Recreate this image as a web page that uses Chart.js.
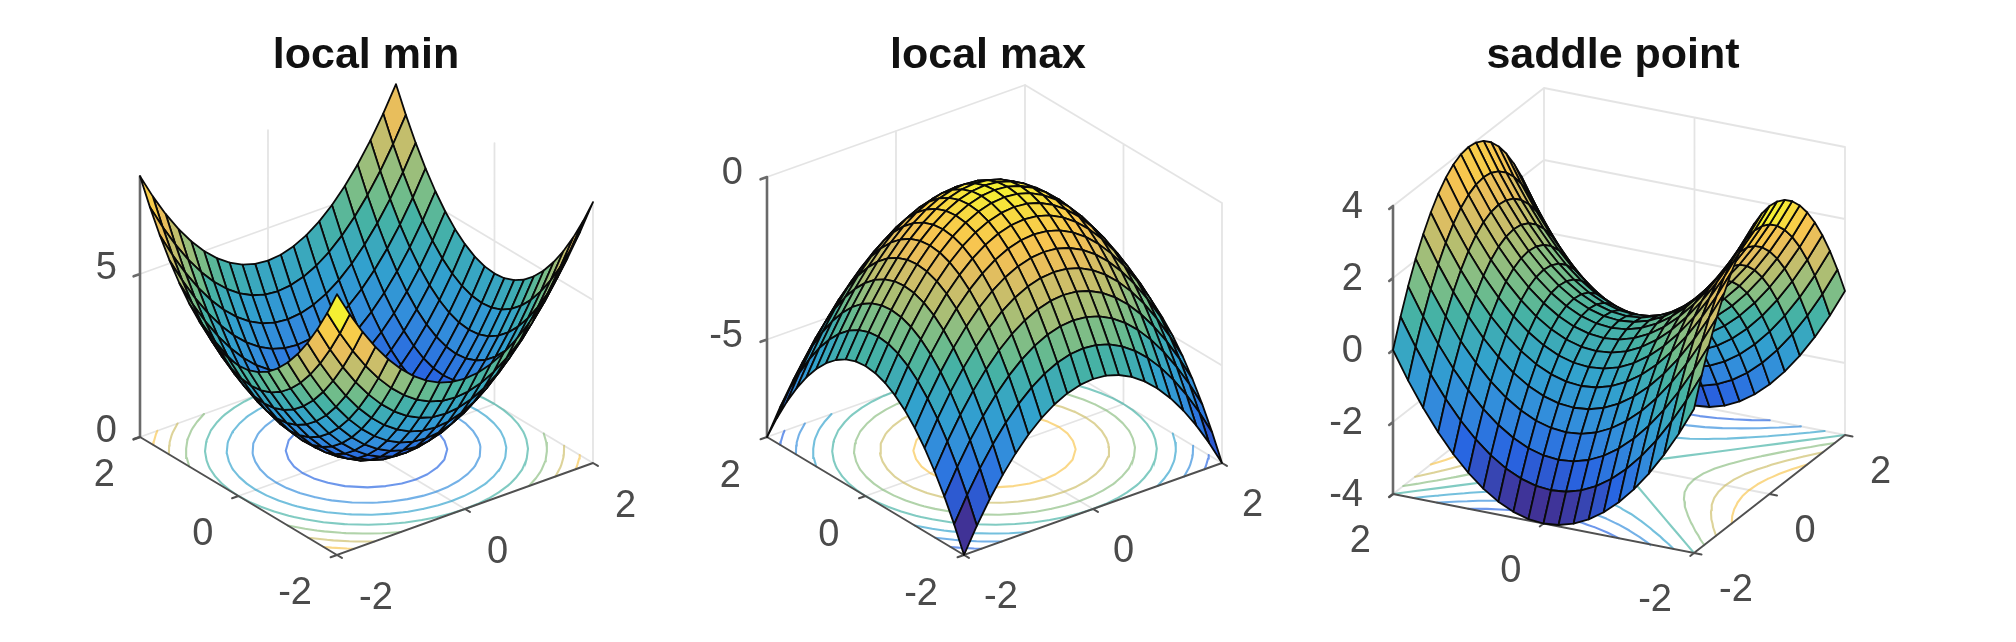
<!DOCTYPE html>
<html>
<head>
<meta charset="utf-8">
<title>local min, local max, saddle point</title>
<script src="https://cdn.jsdelivr.net/npm/chart.js@4"></script>
<style>
  html, body { margin: 0; background: #fff; }
  #page { position: relative; width: 2016px; height: 642px; overflow: hidden; }
  #page canvas { position: absolute; top: 0; filter: blur(0.7px); }
</style>
</head>
<body>
<div id="page">
  <canvas id="plot-min" width="620" height="642" style="left:56px"></canvas>
  <canvas id="plot-max" width="620" height="642" style="left:678px"></canvas>
  <canvas id="plot-saddle" width="620" height="642" style="left:1303px"></canvas>
</div>
<script>
// ---- data ----
const gridX = [-2, -1.8, -1.6, -1.4, -1.2, -1, -0.8, -0.6, -0.4, -0.2, 0, 0.2, 0.4, 0.6, 0.8, 1, 1.2, 1.4, 1.6, 1.8, 2];
const gridY = [-2, -1.8, -1.6, -1.4, -1.2, -1, -0.8, -0.6, -0.4, -0.2, 0, 0.2, 0.4, 0.6, 0.8, 1, 1.2, 1.4, 1.6, 1.8, 2];
const floorTicks = [-2, 0, 2];

const zLocalMin = [
  [8, 7.24, 6.56, 5.96, 5.44, 5, 4.64, 4.36, 4.16, 4.04, 4, 4.04, 4.16, 4.36, 4.64, 5, 5.44, 5.96, 6.56, 7.24, 8],
  [7.24, 6.48, 5.8, 5.2, 4.68, 4.24, 3.88, 3.6, 3.4, 3.28, 3.24, 3.28, 3.4, 3.6, 3.88, 4.24, 4.68, 5.2, 5.8, 6.48, 7.24],
  [6.56, 5.8, 5.12, 4.52, 4, 3.56, 3.2, 2.92, 2.72, 2.6, 2.56, 2.6, 2.72, 2.92, 3.2, 3.56, 4, 4.52, 5.12, 5.8, 6.56],
  [5.96, 5.2, 4.52, 3.92, 3.4, 2.96, 2.6, 2.32, 2.12, 2, 1.96, 2, 2.12, 2.32, 2.6, 2.96, 3.4, 3.92, 4.52, 5.2, 5.96],
  [5.44, 4.68, 4, 3.4, 2.88, 2.44, 2.08, 1.8, 1.6, 1.48, 1.44, 1.48, 1.6, 1.8, 2.08, 2.44, 2.88, 3.4, 4, 4.68, 5.44],
  [5, 4.24, 3.56, 2.96, 2.44, 2, 1.64, 1.36, 1.16, 1.04, 1, 1.04, 1.16, 1.36, 1.64, 2, 2.44, 2.96, 3.56, 4.24, 5],
  [4.64, 3.88, 3.2, 2.6, 2.08, 1.64, 1.28, 1, 0.8, 0.68, 0.64, 0.68, 0.8, 1, 1.28, 1.64, 2.08, 2.6, 3.2, 3.88, 4.64],
  [4.36, 3.6, 2.92, 2.32, 1.8, 1.36, 1, 0.72, 0.52, 0.4, 0.36, 0.4, 0.52, 0.72, 1, 1.36, 1.8, 2.32, 2.92, 3.6, 4.36],
  [4.16, 3.4, 2.72, 2.12, 1.6, 1.16, 0.8, 0.52, 0.32, 0.2, 0.16, 0.2, 0.32, 0.52, 0.8, 1.16, 1.6, 2.12, 2.72, 3.4, 4.16],
  [4.04, 3.28, 2.6, 2, 1.48, 1.04, 0.68, 0.4, 0.2, 0.08, 0.04, 0.08, 0.2, 0.4, 0.68, 1.04, 1.48, 2, 2.6, 3.28, 4.04],
  [4, 3.24, 2.56, 1.96, 1.44, 1, 0.64, 0.36, 0.16, 0.04, 0, 0.04, 0.16, 0.36, 0.64, 1, 1.44, 1.96, 2.56, 3.24, 4],
  [4.04, 3.28, 2.6, 2, 1.48, 1.04, 0.68, 0.4, 0.2, 0.08, 0.04, 0.08, 0.2, 0.4, 0.68, 1.04, 1.48, 2, 2.6, 3.28, 4.04],
  [4.16, 3.4, 2.72, 2.12, 1.6, 1.16, 0.8, 0.52, 0.32, 0.2, 0.16, 0.2, 0.32, 0.52, 0.8, 1.16, 1.6, 2.12, 2.72, 3.4, 4.16],
  [4.36, 3.6, 2.92, 2.32, 1.8, 1.36, 1, 0.72, 0.52, 0.4, 0.36, 0.4, 0.52, 0.72, 1, 1.36, 1.8, 2.32, 2.92, 3.6, 4.36],
  [4.64, 3.88, 3.2, 2.6, 2.08, 1.64, 1.28, 1, 0.8, 0.68, 0.64, 0.68, 0.8, 1, 1.28, 1.64, 2.08, 2.6, 3.2, 3.88, 4.64],
  [5, 4.24, 3.56, 2.96, 2.44, 2, 1.64, 1.36, 1.16, 1.04, 1, 1.04, 1.16, 1.36, 1.64, 2, 2.44, 2.96, 3.56, 4.24, 5],
  [5.44, 4.68, 4, 3.4, 2.88, 2.44, 2.08, 1.8, 1.6, 1.48, 1.44, 1.48, 1.6, 1.8, 2.08, 2.44, 2.88, 3.4, 4, 4.68, 5.44],
  [5.96, 5.2, 4.52, 3.92, 3.4, 2.96, 2.6, 2.32, 2.12, 2, 1.96, 2, 2.12, 2.32, 2.6, 2.96, 3.4, 3.92, 4.52, 5.2, 5.96],
  [6.56, 5.8, 5.12, 4.52, 4, 3.56, 3.2, 2.92, 2.72, 2.6, 2.56, 2.6, 2.72, 2.92, 3.2, 3.56, 4, 4.52, 5.12, 5.8, 6.56],
  [7.24, 6.48, 5.8, 5.2, 4.68, 4.24, 3.88, 3.6, 3.4, 3.28, 3.24, 3.28, 3.4, 3.6, 3.88, 4.24, 4.68, 5.2, 5.8, 6.48, 7.24],
  [8, 7.24, 6.56, 5.96, 5.44, 5, 4.64, 4.36, 4.16, 4.04, 4, 4.04, 4.16, 4.36, 4.64, 5, 5.44, 5.96, 6.56, 7.24, 8]
];

const zLocalMax = [
  [-8, -7.24, -6.56, -5.96, -5.44, -5, -4.64, -4.36, -4.16, -4.04, -4, -4.04, -4.16, -4.36, -4.64, -5, -5.44, -5.96, -6.56, -7.24, -8],
  [-7.24, -6.48, -5.8, -5.2, -4.68, -4.24, -3.88, -3.6, -3.4, -3.28, -3.24, -3.28, -3.4, -3.6, -3.88, -4.24, -4.68, -5.2, -5.8, -6.48, -7.24],
  [-6.56, -5.8, -5.12, -4.52, -4, -3.56, -3.2, -2.92, -2.72, -2.6, -2.56, -2.6, -2.72, -2.92, -3.2, -3.56, -4, -4.52, -5.12, -5.8, -6.56],
  [-5.96, -5.2, -4.52, -3.92, -3.4, -2.96, -2.6, -2.32, -2.12, -2, -1.96, -2, -2.12, -2.32, -2.6, -2.96, -3.4, -3.92, -4.52, -5.2, -5.96],
  [-5.44, -4.68, -4, -3.4, -2.88, -2.44, -2.08, -1.8, -1.6, -1.48, -1.44, -1.48, -1.6, -1.8, -2.08, -2.44, -2.88, -3.4, -4, -4.68, -5.44],
  [-5, -4.24, -3.56, -2.96, -2.44, -2, -1.64, -1.36, -1.16, -1.04, -1, -1.04, -1.16, -1.36, -1.64, -2, -2.44, -2.96, -3.56, -4.24, -5],
  [-4.64, -3.88, -3.2, -2.6, -2.08, -1.64, -1.28, -1, -0.8, -0.68, -0.64, -0.68, -0.8, -1, -1.28, -1.64, -2.08, -2.6, -3.2, -3.88, -4.64],
  [-4.36, -3.6, -2.92, -2.32, -1.8, -1.36, -1, -0.72, -0.52, -0.4, -0.36, -0.4, -0.52, -0.72, -1, -1.36, -1.8, -2.32, -2.92, -3.6, -4.36],
  [-4.16, -3.4, -2.72, -2.12, -1.6, -1.16, -0.8, -0.52, -0.32, -0.2, -0.16, -0.2, -0.32, -0.52, -0.8, -1.16, -1.6, -2.12, -2.72, -3.4, -4.16],
  [-4.04, -3.28, -2.6, -2, -1.48, -1.04, -0.68, -0.4, -0.2, -0.08, -0.04, -0.08, -0.2, -0.4, -0.68, -1.04, -1.48, -2, -2.6, -3.28, -4.04],
  [-4, -3.24, -2.56, -1.96, -1.44, -1, -0.64, -0.36, -0.16, -0.04, 0, -0.04, -0.16, -0.36, -0.64, -1, -1.44, -1.96, -2.56, -3.24, -4],
  [-4.04, -3.28, -2.6, -2, -1.48, -1.04, -0.68, -0.4, -0.2, -0.08, -0.04, -0.08, -0.2, -0.4, -0.68, -1.04, -1.48, -2, -2.6, -3.28, -4.04],
  [-4.16, -3.4, -2.72, -2.12, -1.6, -1.16, -0.8, -0.52, -0.32, -0.2, -0.16, -0.2, -0.32, -0.52, -0.8, -1.16, -1.6, -2.12, -2.72, -3.4, -4.16],
  [-4.36, -3.6, -2.92, -2.32, -1.8, -1.36, -1, -0.72, -0.52, -0.4, -0.36, -0.4, -0.52, -0.72, -1, -1.36, -1.8, -2.32, -2.92, -3.6, -4.36],
  [-4.64, -3.88, -3.2, -2.6, -2.08, -1.64, -1.28, -1, -0.8, -0.68, -0.64, -0.68, -0.8, -1, -1.28, -1.64, -2.08, -2.6, -3.2, -3.88, -4.64],
  [-5, -4.24, -3.56, -2.96, -2.44, -2, -1.64, -1.36, -1.16, -1.04, -1, -1.04, -1.16, -1.36, -1.64, -2, -2.44, -2.96, -3.56, -4.24, -5],
  [-5.44, -4.68, -4, -3.4, -2.88, -2.44, -2.08, -1.8, -1.6, -1.48, -1.44, -1.48, -1.6, -1.8, -2.08, -2.44, -2.88, -3.4, -4, -4.68, -5.44],
  [-5.96, -5.2, -4.52, -3.92, -3.4, -2.96, -2.6, -2.32, -2.12, -2, -1.96, -2, -2.12, -2.32, -2.6, -2.96, -3.4, -3.92, -4.52, -5.2, -5.96],
  [-6.56, -5.8, -5.12, -4.52, -4, -3.56, -3.2, -2.92, -2.72, -2.6, -2.56, -2.6, -2.72, -2.92, -3.2, -3.56, -4, -4.52, -5.12, -5.8, -6.56],
  [-7.24, -6.48, -5.8, -5.2, -4.68, -4.24, -3.88, -3.6, -3.4, -3.28, -3.24, -3.28, -3.4, -3.6, -3.88, -4.24, -4.68, -5.2, -5.8, -6.48, -7.24],
  [-8, -7.24, -6.56, -5.96, -5.44, -5, -4.64, -4.36, -4.16, -4.04, -4, -4.04, -4.16, -4.36, -4.64, -5, -5.44, -5.96, -6.56, -7.24, -8]
];

const zSaddle = [
  [0, 0.76, 1.44, 2.04, 2.56, 3, 3.36, 3.64, 3.84, 3.96, 4, 3.96, 3.84, 3.64, 3.36, 3, 2.56, 2.04, 1.44, 0.76, 0],
  [-0.76, 0, 0.68, 1.28, 1.8, 2.24, 2.6, 2.88, 3.08, 3.2, 3.24, 3.2, 3.08, 2.88, 2.6, 2.24, 1.8, 1.28, 0.68, 0, -0.76],
  [-1.44, -0.68, 0, 0.6, 1.12, 1.56, 1.92, 2.2, 2.4, 2.52, 2.56, 2.52, 2.4, 2.2, 1.92, 1.56, 1.12, 0.6, 0, -0.68, -1.44],
  [-2.04, -1.28, -0.6, 0, 0.52, 0.96, 1.32, 1.6, 1.8, 1.92, 1.96, 1.92, 1.8, 1.6, 1.32, 0.96, 0.52, 0, -0.6, -1.28, -2.04],
  [-2.56, -1.8, -1.12, -0.52, 0, 0.44, 0.8, 1.08, 1.28, 1.4, 1.44, 1.4, 1.28, 1.08, 0.8, 0.44, 0, -0.52, -1.12, -1.8, -2.56],
  [-3, -2.24, -1.56, -0.96, -0.44, 0, 0.36, 0.64, 0.84, 0.96, 1, 0.96, 0.84, 0.64, 0.36, 0, -0.44, -0.96, -1.56, -2.24, -3],
  [-3.36, -2.6, -1.92, -1.32, -0.8, -0.36, 0, 0.28, 0.48, 0.6, 0.64, 0.6, 0.48, 0.28, 0, -0.36, -0.8, -1.32, -1.92, -2.6, -3.36],
  [-3.64, -2.88, -2.2, -1.6, -1.08, -0.64, -0.28, 0, 0.2, 0.32, 0.36, 0.32, 0.2, 0, -0.28, -0.64, -1.08, -1.6, -2.2, -2.88, -3.64],
  [-3.84, -3.08, -2.4, -1.8, -1.28, -0.84, -0.48, -0.2, 0, 0.12, 0.16, 0.12, 0, -0.2, -0.48, -0.84, -1.28, -1.8, -2.4, -3.08, -3.84],
  [-3.96, -3.2, -2.52, -1.92, -1.4, -0.96, -0.6, -0.32, -0.12, 0, 0.04, 0, -0.12, -0.32, -0.6, -0.96, -1.4, -1.92, -2.52, -3.2, -3.96],
  [-4, -3.24, -2.56, -1.96, -1.44, -1, -0.64, -0.36, -0.16, -0.04, 0, -0.04, -0.16, -0.36, -0.64, -1, -1.44, -1.96, -2.56, -3.24, -4],
  [-3.96, -3.2, -2.52, -1.92, -1.4, -0.96, -0.6, -0.32, -0.12, 0, 0.04, 0, -0.12, -0.32, -0.6, -0.96, -1.4, -1.92, -2.52, -3.2, -3.96],
  [-3.84, -3.08, -2.4, -1.8, -1.28, -0.84, -0.48, -0.2, 0, 0.12, 0.16, 0.12, 0, -0.2, -0.48, -0.84, -1.28, -1.8, -2.4, -3.08, -3.84],
  [-3.64, -2.88, -2.2, -1.6, -1.08, -0.64, -0.28, 0, 0.2, 0.32, 0.36, 0.32, 0.2, 0, -0.28, -0.64, -1.08, -1.6, -2.2, -2.88, -3.64],
  [-3.36, -2.6, -1.92, -1.32, -0.8, -0.36, 0, 0.28, 0.48, 0.6, 0.64, 0.6, 0.48, 0.28, 0, -0.36, -0.8, -1.32, -1.92, -2.6, -3.36],
  [-3, -2.24, -1.56, -0.96, -0.44, 0, 0.36, 0.64, 0.84, 0.96, 1, 0.96, 0.84, 0.64, 0.36, 0, -0.44, -0.96, -1.56, -2.24, -3],
  [-2.56, -1.8, -1.12, -0.52, 0, 0.44, 0.8, 1.08, 1.28, 1.4, 1.44, 1.4, 1.28, 1.08, 0.8, 0.44, 0, -0.52, -1.12, -1.8, -2.56],
  [-2.04, -1.28, -0.6, 0, 0.52, 0.96, 1.32, 1.6, 1.8, 1.92, 1.96, 1.92, 1.8, 1.6, 1.32, 0.96, 0.52, 0, -0.6, -1.28, -2.04],
  [-1.44, -0.68, 0, 0.6, 1.12, 1.56, 1.92, 2.2, 2.4, 2.52, 2.56, 2.52, 2.4, 2.2, 1.92, 1.56, 1.12, 0.6, 0, -0.68, -1.44],
  [-0.76, 0, 0.68, 1.28, 1.8, 2.24, 2.6, 2.88, 3.08, 3.2, 3.24, 3.2, 3.08, 2.88, 2.6, 2.24, 1.8, 1.28, 0.68, 0, -0.76],
  [0, 0.76, 1.44, 2.04, 2.56, 3, 3.36, 3.64, 3.84, 3.96, 4, 3.96, 3.84, 3.64, 3.36, 3, 2.56, 2.04, 1.44, 0.76, 0]
];

const zTicksMin = [0, 5];
const zTicksMax = [-5, 0];
const zTicksSaddle = [-4, -2, 0, 2, 4];
const levelsMin = [1, 2, 3, 4, 5, 6, 7];
const levelsMax = [-7, -6, -5, -4, -3, -2, -1];
const levelsSaddle = [-3, -2, -1, 0, 1, 2, 3];

// ---- panel layout (page px), the view is an oblique projection of the box ----
const TITLE_BLOCK = 81.6;  // 30 padding + 43 * 1.2 line height
const PANELS = [
  { id: 'plot-min', title: 'local min', left: 56, z: zLocalMin, zRange: [0, 8], zTicks: zTicksMin, levels: levelsMin,
    front: [337, 555], right: [593, 463], back: [396, 345], zPx: 32.6,
    xLab: [22, 44], yLab: [-25, 39], zLab: [-23, -5] },
  { id: 'plot-max', title: 'local max', left: 678, z: zLocalMax, zRange: [-8, 0], zTicks: zTicksMax, levels: levelsMax,
    front: [964, 555], right: [1222, 463], back: [1025, 345], zPx: 32.5,
    xLab: [20, 43], yLab: [-26, 40], zLab: [-24, -3] },
  { id: 'plot-saddle', title: 'saddle point', left: 1303, z: zSaddle, zRange: [-4, 4], zTicks: zTicksSaddle, levels: levelsSaddle,
    front: [1694, 553], right: [1845, 435], back: [1544, 376], zPx: 36,
    xLab: [25, 38], yLab: [-22, 48], zLab: [-30, 2] }
];

// colour ramp: normalised z, then rgb
const RAMP = [
  [0, 64, 50, 150], [0.12, 40, 100, 225], [0.25, 50, 140, 220], [0.375, 50, 162, 205], [0.5, 70, 178, 165],
  [0.56, 110, 188, 140], [0.625, 140, 190, 130], [0.7, 185, 190, 110], [0.75, 205, 190, 105], [0.81, 232, 190, 92],
  [0.875, 247, 197, 80], [0.94, 248, 212, 68], [1, 245, 240, 50]
];

function rampColor(t, alpha) {
  let k = 0;
  while (k < RAMP.length - 2 && t > RAMP[k + 1][0]) k++;
  const a = RAMP[k], b = RAMP[k + 1];
  const f = Math.min(1, Math.max(0, (t - a[0]) / (b[0] - a[0])));
  const c = [1, 2, 3].map(n => Math.round(a[n] + (b[n] - a[n]) * f));
  return alpha === undefined ? `rgb(${c})` : `rgba(${c},${alpha})`;
}

function lineSet(data, color, width) {
  return { data, showLine: true, pointRadius: 0, borderColor: color, borderWidth: width, tension: 0, fill: false, spanGaps: false, borderCapStyle: 'round' };
}

function buildPanel(p) {
  // left corner comes from closing the parallelogram front/right/back
  const ex = [(p.right[0] - p.front[0]) / 4, (p.right[1] - p.front[1]) / 4];
  const ey = [(p.back[0] - p.right[0]) / 4, (p.back[1] - p.right[1]) / 4];
  const zMin = p.zRange[0], zMax = p.zRange[1];
  const project = (x, y, z) => ({
    x: p.front[0] + (x + 2) * ex[0] + (y + 2) * ey[0],
    y: p.front[1] + (x + 2) * ex[1] + (y + 2) * ey[1] - (z - zMin) * p.zPx
  });
  const gap = { x: NaN, y: NaN };
  const sets = [];

  // back walls and floor grid
  const grid = [];
  const seg = (a, b) => { grid.push(project(...a), project(...b), gap); };
  floorTicks.forEach(t => {
    seg([t, 2, zMin], [t, 2, zMax]);
    seg([2, t, zMin], [2, t, zMax]);
    if (t > -2) { seg([t, -2, zMin], [t, 2, zMin]); seg([-2, t, zMin], [2, t, zMin]); }
  });
  p.zTicks.concat(zMin).forEach(z => { seg([-2, 2, z], [2, 2, z]); seg([2, 2, z], [2, -2, z]); });
  sets.push(lineSet(grid, 'rgba(205,205,205,0.55)', 1.8));

  // contours on the floor, marching squares over the z table
  p.levels.forEach(lv => {
    const pts = [];
    for (let j = 0; j < gridY.length - 1; j++) {
      for (let i = 0; i < gridX.length - 1; i++) {
        const c = [[i, j], [i + 1, j], [i + 1, j + 1], [i, j + 1]];
        const cross = [];
        for (let e = 0; e < 4; e++) {
          const a = c[e], b = c[(e + 1) % 4];
          const za = p.z[a[1]][a[0]], zb = p.z[b[1]][b[0]];
          if ((za >= lv) !== (zb >= lv)) {
            const t = (lv - za) / (zb - za);
            cross.push(project(gridX[a[0]] + (gridX[b[0]] - gridX[a[0]]) * t, gridY[a[1]] + (gridY[b[1]] - gridY[a[1]]) * t, zMin));
          }
        }
        if (cross.length >= 2) pts.push(cross[0], cross[1], gap);
        if (cross.length === 4) pts.push(cross[2], cross[3], gap);
      }
    }
    sets.push(lineSet(pts, rampColor((lv - zMin) / (zMax - zMin), 0.68), 2.1));
  });

  // axis lines with short ticks
  const axes = [project(-2, 2, zMin), project(-2, 2, zMax), gap];
  const front = [project(-2, 2, zMin), project(-2, -2, zMin), project(2, -2, zMin), gap];
  p.zTicks.forEach(z => axes.push(project(-2, 2, z), project(-2.1, 2, z), gap));
  floorTicks.forEach(t => {
    front.push(project(t, -2, zMin), project(t, -2.1, zMin), gap);
    front.push(project(-2, t, zMin), project(-2.1, t, zMin), gap);
  });
  sets.push(lineSet(axes, '#6a6a6a', 2.6));
  sets.push(lineSet(front, '#505050', 2));

  // surface cells, far corner first so the near ones paint over them.
  // each facet takes the colour of its lowest-index vertex, like a flat surf
  const cells = [];
  for (let j = 0; j < gridY.length - 1; j++) {
    for (let i = 0; i < gridX.length - 1; i++) cells.push([i, j]);
  }
  cells.sort((a, b) => (b[0] + b[1]) - (a[0] + a[1]));
  cells.forEach(([i, j]) => {
    const corner = (a, b) => project(gridX[a], gridY[b], p.z[b][a]);
    const poly = [corner(i, j), corner(i + 1, j), corner(i + 1, j + 1), corner(i, j + 1), corner(i, j)];
    const ds = lineSet(poly, '#0a0a0a', 1.8);
    ds.fill = 'shape';
    ds.backgroundColor = rampColor((p.z[j][i] - zMin) / (zMax - zMin));
    ds.borderJoinStyle = 'round';
    sets.push(ds);
  });

  // tick text goes through the same scales as the marks
  const tickText = {
    id: 'tickText',
    afterDraw(chart) {
      const ctx = chart.ctx, sx = chart.scales.x, sy = chart.scales.y;
      const put = (pt, off, label, align) => {
        ctx.textAlign = align;
        ctx.fillText(label, sx.getPixelForValue(pt.x) + off[0], sy.getPixelForValue(pt.y) + off[1]);
      };
      ctx.save();
      ctx.font = '38px "Liberation Sans", Arial, sans-serif';
      ctx.fillStyle = '#4b4b4b';
      ctx.textBaseline = 'middle';
      p.zTicks.forEach(z => put(project(-2, 2, z), p.zLab, String(z), 'right'));
      floorTicks.forEach(t => {
        put(project(t, -2, zMin), p.xLab, String(t), 'left');
        put(project(-2, t, zMin), p.yLab, String(t), 'right');
      });
      ctx.restore();
    }
  };

  return new Chart(document.getElementById(p.id), {
    type: 'scatter',
    // first dataset in the array is painted last, so flip the painter order
    data: { datasets: sets.reverse() },
    plugins: [tickText],
    options: {
      responsive: false,
      animation: false,
      events: [],
      layout: { padding: 0 },
      scales: {
        x: { type: 'linear', display: false, min: p.left, max: p.left + 620 },
        y: { type: 'linear', display: false, min: TITLE_BLOCK, max: 642, reverse: true }
      },
      plugins: {
        legend: { display: false },
        tooltip: { enabled: false },
        title: {
          display: true,
          text: p.title,
          color: '#111',
          font: { family: '"Liberation Sans", Arial, sans-serif', size: 43, weight: 'bold', lineHeight: 1.2 },
          padding: { top: 30, bottom: 0 }
        }
      }
    }
  });
}

PANELS.forEach(buildPanel);
</script>
</body>
</html>
